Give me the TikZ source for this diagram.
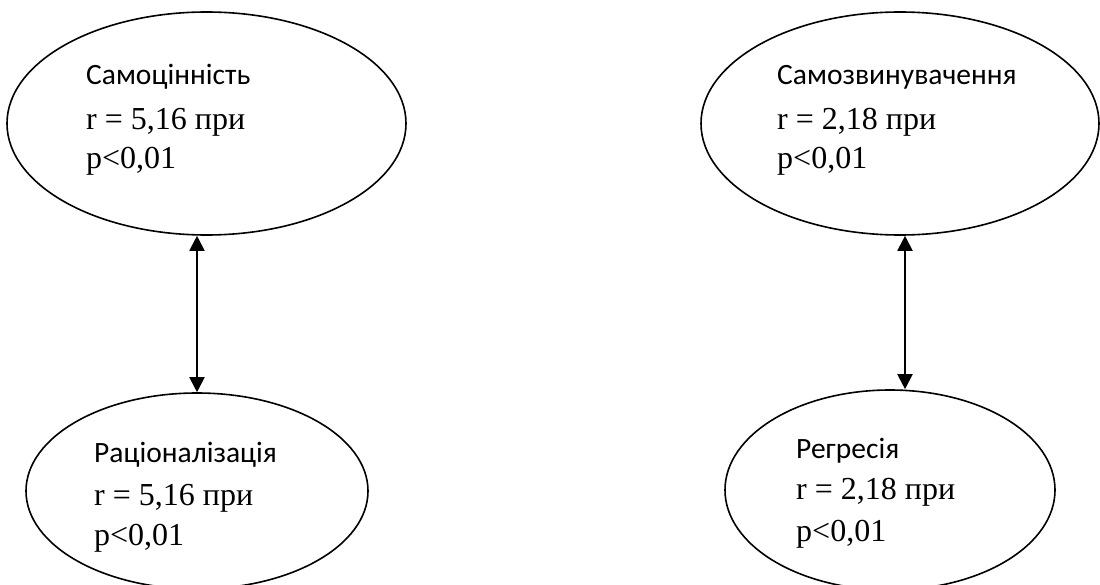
\documentclass[tikz,border=0pt]{standalone}
\usepackage{fontspec}
\setmainfont{Liberation Serif}
\newfontfamily\labelfont{Carlito}
\usetikzlibrary{shapes.geometric,arrows.meta}
\tikzset{
  oval/.style={ellipse, draw, line width=1.6pt, inner sep=0pt},
  lbl/.style={anchor=base west, inner sep=0pt, font=\labelfont\fontsize{29.5}{35}\selectfont},
  val/.style={anchor=base west, inner sep=0pt, font=\fontsize{32}{38}\selectfont},
  link/.style={line width=2pt, {Triangle[length=15pt,width=15pt]}-{Triangle[length=15pt,width=15pt]}}
}
\begin{document}
\begin{tikzpicture}[x=1pt,y=-1pt]
  \useasboundingbox (0,0) rectangle (1100,585);
  \clip (0,0) rectangle (1100,585);
  \fill[white] (0,0) rectangle (1100,585);

  % the four ovals
  \node[oval, minimum width=399pt, minimum height=223pt] (selfvalue) at (206.5,123.5) {};
  \node[oval, minimum width=342pt, minimum height=196pt] (rational) at (197,491) {};
  \node[oval, minimum width=398pt, minimum height=223pt] (selfblame) at (900,123.5) {};
  \node[oval, minimum width=330pt, minimum height=200pt] (regress) at (890,490) {};

  % texts inside the ovals
  \node[lbl] (t1) at (86,85) {Самоцінність};
  \node[val] (r1) at (86,130) {r = 5,16 при};
  \node[val] (p1) at (86,169) {p<0,01};

  \node[lbl] (t2) at (94,462) {Раціоналізація};
  \node[val] (r2) at (94,505) {r = 5,16 при};
  \node[val] (p2) at (94,545) {p<0,01};

  \node[lbl] (t3) at (777,85) {Самозвинувачення};
  \node[val] (r3) at (777,130) {r = 2,18 при};
  \node[val] (p3) at (777,169) {p<0,01};

  \node[lbl] (t4) at (796,458) {Регресія};
  \node[val] (r4) at (796,499) {r = 2,18 при};
  \node[val] (p4) at (796,541) {p<0,01};

  % two-way links
  \coordinate (ax) at (905,0);
  \draw[link] (selfvalue.south -| rational.north) -- (rational.north);
  \draw[link] (selfblame.south -| ax) -- (regress.north -| ax);
\end{tikzpicture}
\end{document}
